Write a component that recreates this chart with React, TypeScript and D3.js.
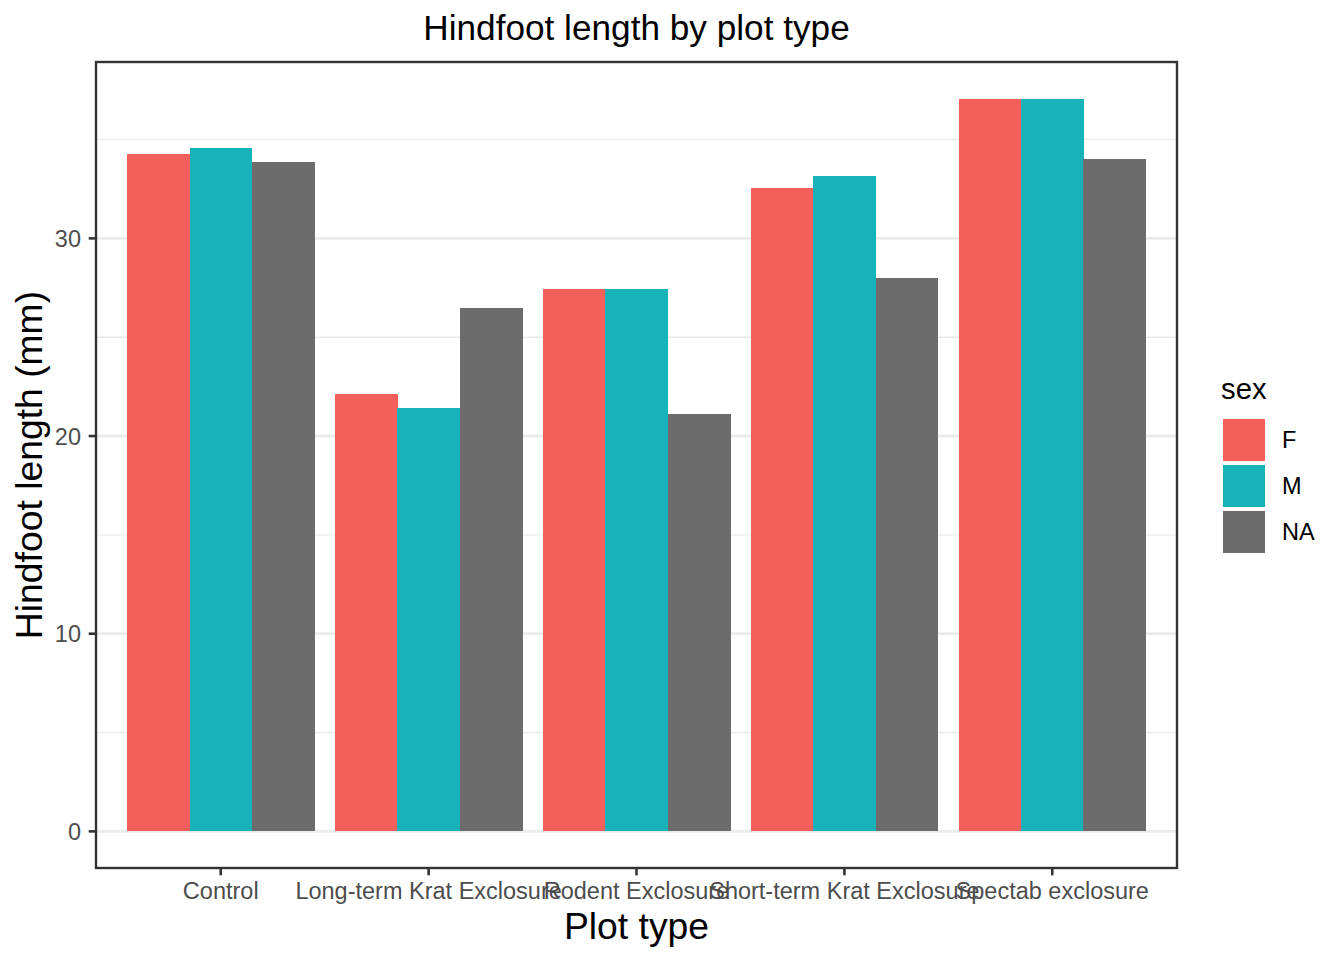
import React from "react";
import * as d3 from "d3";

const categories = [
  "Control",
  "Long-term Krat Exclosure",
  "Rodent Exclosure",
  "Short-term Krat Exclosure",
  "Spectab exclosure",
];
const sexes = ["F", "M", "NA"];
const valuesF = [34.28, 22.13, 27.44, 32.56, 37.07];
const valuesM = [34.58, 21.42, 27.44, 33.16, 37.07];
const valuesNA = [33.87, 26.48, 21.11, 28.0, 34.03];
const yTicks = [0, 10, 20, 30];
const yMinorTicks = [5, 15, 25, 35];
const colors = ["#F35F5B", "#18B3B8", "#6C6C6C"];

const W = 1344;
const H = 960;
const panel = { left: 96, right: 1177, top: 62, bottom: 868 };
const FONT = "'Liberation Sans', Arial, Helvetica, sans-serif";

export default function App() {
  const series = [valuesF, valuesM, valuesNA];
  const maxV = d3.max(series.flat()) as number;
  const pad = 0.05 * maxV;
  const y = d3
    .scaleLinear()
    .domain([0 - pad, maxV + pad])
    .range([panel.bottom, panel.top]);
  const x = d3
    .scaleBand<string>()
    .domain(categories)
    .range([panel.left, panel.right])
    .paddingInner(0.1)
    .paddingOuter(0.15);
  const xs = d3.scaleBand<string>().domain(sexes).range([0, x.bandwidth()]).padding(0);

  const cx = (panel.left + panel.right) / 2;
  const cy = (panel.top + panel.bottom) / 2;

  return (
    <svg
      width={W}
      height={H}
      style={{ position: "absolute", left: 0, top: 0, background: "#fff" }}
      fontFamily={FONT}
    >
      <rect x={0} y={0} width={W} height={H} fill="#fff" />
      {/* grid */}
      {yMinorTicks.map((t) => (
        <line
          key={"mn" + t}
          x1={panel.left}
          x2={panel.right}
          y1={y(t)}
          y2={y(t)}
          stroke="#EBEBEB"
          strokeWidth={1.42}
        />
      ))}
      {yTicks.map((t) => (
        <line
          key={"mj" + t}
          x1={panel.left}
          x2={panel.right}
          y1={y(t)}
          y2={y(t)}
          stroke="#EBEBEB"
          strokeWidth={2.84}
        />
      ))}
      {/* bars */}
      {categories.map((c, i) => (
        <g key={c} shapeRendering="crispEdges">
          {sexes.map((s, j) => {
            const v = series[j][i];
            return (
              <rect
                key={s}
                x={(x(c) as number) + (xs(s) as number)}
                width={xs.bandwidth() + 0.5}
                y={y(v)}
                height={y(0) - y(v)}
                fill={colors[j]}
              />
            );
          })}
        </g>
      ))}
      {/* panel border */}
      <rect
        x={panel.left}
        y={panel.top}
        width={panel.right - panel.left}
        height={panel.bottom - panel.top}
        fill="none"
        stroke="#333333"
        strokeWidth={2.4}
      />
      {/* y axis */}
      {yTicks.map((t) => (
        <g key={"yt" + t}>
          <line
            x1={panel.left - 7.3}
            x2={panel.left}
            y1={y(t)}
            y2={y(t)}
            stroke="#333333"
            strokeWidth={2.6}
          />
          <text
            x={panel.left - 15}
            y={y(t)}
            dy="0.36em"
            textAnchor="end"
            fontSize={23.5}
            fill="#4D4D4D"
          >
            {t}
          </text>
        </g>
      ))}
      {/* x axis */}
      {categories.map((c) => {
        const px = (x(c) as number) + x.bandwidth() / 2;
        return (
          <g key={"xt" + c}>
            <line
              x1={px}
              x2={px}
              y1={panel.bottom}
              y2={panel.bottom + 7.3}
              stroke="#333333"
              strokeWidth={2.6}
            />
            <text x={px} y={899} textAnchor="middle" fontSize={23.5} fill="#4D4D4D">
              {c}
            </text>
          </g>
        );
      })}
      {/* titles */}
      <text x={cx} y={40} textAnchor="middle" fontSize={35.2} fill="#000">
        Hindfoot length by plot type
      </text>
      <text x={cx} y={939} textAnchor="middle" fontSize={37.3} fill="#000">
        Plot type
      </text>
      <text
        transform={`translate(42,${cy}) rotate(-90)`}
        textAnchor="middle"
        fontSize={37.3}
        fill="#000"
      >
        Hindfoot length (mm)
      </text>
      {/* legend */}
      <text x={1221} y={399} fontSize={29.3} fill="#000">
        sex
      </text>
      {sexes.map((s, j) => {
        const top = 419 + j * 46;
        return (
          <g key={"lg" + s}>
            <rect x={1223} y={top} width={42} height={42} fill={colors[j]} />
            <text x={1282} y={top + 21} dy="0.36em" fontSize={23.5} fill="#000">
              {s}
            </text>
          </g>
        );
      })}
    </svg>
  );
}
